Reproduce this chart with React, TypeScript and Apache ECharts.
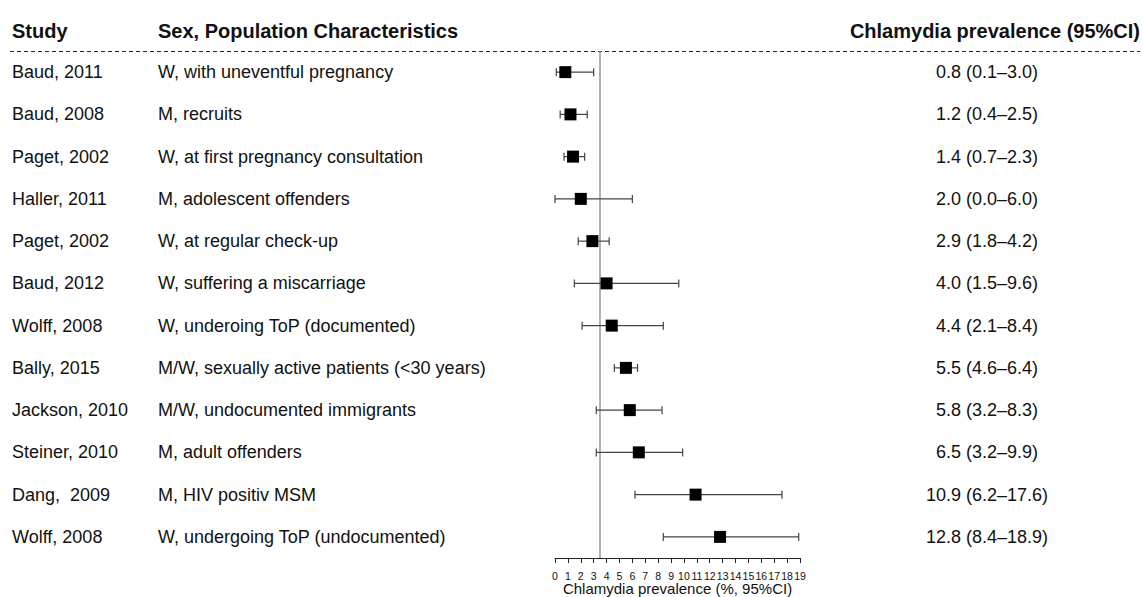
import React, { useEffect, useRef } from "react";
import * as echarts from "echarts";

const studies = [
  "Baud, 2011",
  "Baud, 2008",
  "Paget, 2002",
  "Haller, 2011",
  "Paget, 2002",
  "Baud, 2012",
  "Wolff, 2008",
  "Bally, 2015",
  "Jackson, 2010",
  "Steiner, 2010",
  "Dang,  2009",
  "Wolff, 2008",
];

const populations = [
  "W, with uneventful pregnancy",
  "M, recruits",
  "W, at first pregnancy consultation",
  "M, adolescent offenders",
  "W, at regular check-up",
  "W, suffering a miscarriage",
  "W, underoing ToP (documented)",
  "M/W, sexually active patients (<30 years)",
  "M/W, undocumented immigrants",
  "M, adult offenders",
  "M, HIV positiv MSM",
  "W, undergoing ToP (undocumented)",
];

const estimates = [0.8, 1.2, 1.4, 2.0, 2.9, 4.0, 4.4, 5.5, 5.8, 6.5, 10.9, 12.8];
const lowerCI = [0.1, 0.4, 0.7, 0.0, 1.8, 1.5, 2.1, 4.6, 3.2, 3.2, 6.2, 8.4];
const upperCI = [3.0, 2.5, 2.3, 6.0, 4.2, 9.6, 8.4, 6.4, 8.3, 9.9, 17.6, 18.9];
const pooledLine = 3.5;

const xTicksMin = 0;
const xTicksMax = 19;

const headers = ["Study", "Sex, Population Characteristics", "Chlamydia prevalence (95%CI)"];
const xAxisTitle = "Chlamydia prevalence (%, 95%CI)";

const FONT = "'Liberation Sans', Arial, Helvetica, sans-serif";

const fmt = (v: number) => v.toFixed(1);

export default function App() {
  const ref = useRef<HTMLDivElement>(null);

  useEffect(() => {
    if (!ref.current) return;
    const chart = echarts.init(ref.current, undefined, { renderer: "svg" });
    const idx = studies.map((_, i) => String(i));
    const valueLabels = estimates.map(
      (e, i) => `${fmt(e)} (${fmt(lowerCI[i])}–${fmt(upperCI[i])})`
    );

    const gridLeft = 555;
    const gridRightX = 800;

    const hiddenAxisBase = {
      type: "category" as const,
      data: idx,
      inverse: true,
      axisLine: { show: false },
      axisTick: { show: false },
      splitLine: { show: false },
    };

    chart.setOption({
      animation: false,
      backgroundColor: "#fff",
      grid: {
        left: gridLeft,
        width: gridRightX - gridLeft,
        top: 51,
        height: 507,
        containLabel: false,
        outerBoundsMode: "none",
      },
      xAxis: {
        type: "value",
        min: xTicksMin,
        max: xTicksMax,
        interval: 1,
        name: xAxisTitle,
        nameLocation: "middle",
        nameGap: 23,
        nameMoveOverlap: false,
        nameTextStyle: { fontFamily: FONT, fontSize: 15, color: "#111", lineHeight: 15, verticalAlign: "top" },
        axisLine: { show: true, lineStyle: { color: "#222", width: 1 } },
        axisTick: { show: true, length: 5, lineStyle: { color: "#222" } },
        axisLabel: {
          fontFamily: FONT,
          fontSize: 10.5,
          color: "#111",
          margin: 12,
        },
        splitLine: { show: false },
      },
      yAxis: [
        {
          ...hiddenAxisBase,
          position: "left",
          axisLabel: {
            fontFamily: FONT,
            fontSize: 18,
            color: "#111",
            align: "left",
            margin: gridLeft - 12,
            formatter: (v: string) => studies[Number(v)],
          },
        },
        {
          ...hiddenAxisBase,
          position: "left",
          axisLabel: {
            fontFamily: FONT,
            fontSize: 18,
            color: "#111",
            align: "left",
            margin: gridLeft - 158,
            formatter: (v: string) => populations[Number(v)],
          },
        },
        {
          ...hiddenAxisBase,
          position: "right",
          axisLabel: {
            fontFamily: FONT,
            fontSize: 18,
            color: "#111",
            align: "center",
            margin: 987 - gridRightX,
            formatter: (v: string) => valueLabels[Number(v)],
          },
        },
      ],
      graphic: [
        {
          type: "text",
          left: 12,
          top: 21,
          style: { text: headers[0], font: `bold 20px ${FONT}`, fill: "#111" },
        },
        {
          type: "text",
          left: 158,
          top: 21,
          style: { text: headers[1], font: `bold 20px ${FONT}`, fill: "#111" },
        },
        {
          type: "text",
          right: 3,
          top: 21,
          style: { text: headers[2], font: `bold 20px ${FONT}`, fill: "#111" },
        },
        {
          type: "line",
          shape: { x1: 10, y1: 51.5, x2: 1140, y2: 51.5 },
          style: { stroke: "#222", lineWidth: 1, lineDash: [4, 3] },
        },
      ],
      series: [
        {
          type: "custom",
          xAxisIndex: 0,
          yAxisIndex: 0,
          data: studies.map((_, i) => [lowerCI[i], upperCI[i], i]),
          encode: { x: [0, 1], y: 2 },
          renderItem: (params: any, api: any) => {
            const i = api.value(2);
            const p1 = api.coord([api.value(0), i]);
            const p2 = api.coord([api.value(1), i]);
            const h = 4;
            const style = { stroke: "#444", lineWidth: 1.2 };
            return {
              type: "group",
              children: [
                { type: "line", shape: { x1: p1[0], y1: p1[1], x2: p2[0], y2: p2[1] }, style },
                { type: "line", shape: { x1: p1[0], y1: p1[1] - h, x2: p1[0], y2: p1[1] + h }, style },
                { type: "line", shape: { x1: p2[0], y1: p2[1] - h, x2: p2[0], y2: p2[1] + h }, style },
              ],
            };
          },
          z: 2,
        },
        {
          type: "scatter",
          xAxisIndex: 0,
          yAxisIndex: 0,
          data: estimates.map((e, i) => [e, i]),
          symbol: "rect",
          symbolSize: 12,
          itemStyle: { color: "#000", opacity: 1 },
          z: 3,
          markLine: {
            silent: true,
            symbol: "none",
            label: { show: false },
            lineStyle: { color: "#999", width: 1.5, type: "solid" },
            data: [{ xAxis: pooledLine }],
            z: 1,
          },
        },
      ],
    });

    return () => chart.dispose();
  }, []);

  return (
    <div
      ref={ref}
      style={{ position: "fixed", left: 0, top: 0, width: 1143, height: 597, background: "#fff" }}
    />
  );
}
